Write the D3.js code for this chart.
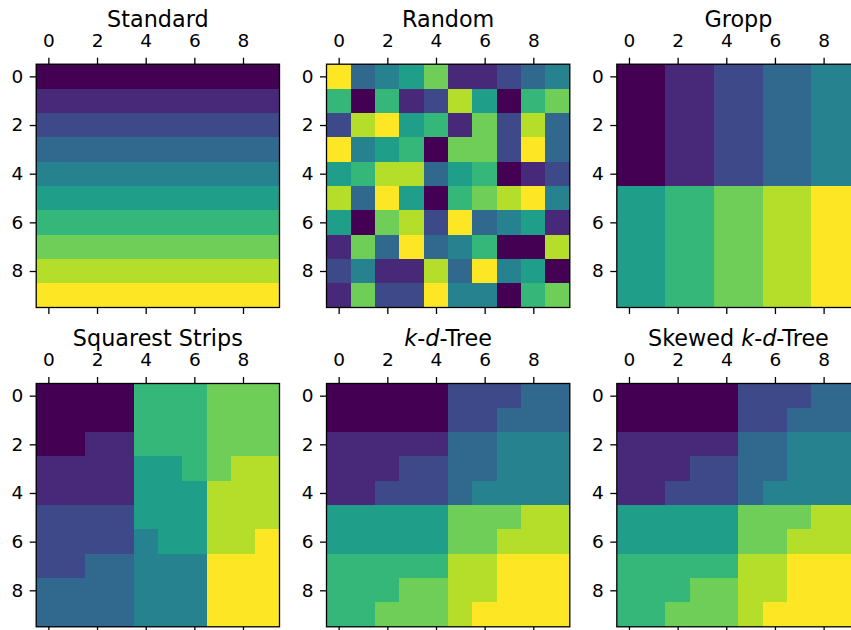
<!DOCTYPE html>
<html>
<head>
<meta charset="utf-8">
<script src="https://cdn.jsdelivr.net/npm/d3@7"></script>
<style>
  body { margin: 0; background: #fff; }
  svg { display: block; }
</style>
</head>
<body>
<script>
// titles of the six partitioning schemes
var titles = ["Standard", "Random", "Gropp", "Squarest Strips", "k-d-Tree", "Skewed k-d-Tree"];
var tickVals = [0, 2, 4, 6, 8];

// processor id for every cell of the 10x10 grid
var standard = [
  [0,0,0,0,0,0,0,0,0,0],
  [1,1,1,1,1,1,1,1,1,1],
  [2,2,2,2,2,2,2,2,2,2],
  [3,3,3,3,3,3,3,3,3,3],
  [4,4,4,4,4,4,4,4,4,4],
  [5,5,5,5,5,5,5,5,5,5],
  [6,6,6,6,6,6,6,6,6,6],
  [7,7,7,7,7,7,7,7,7,7],
  [8,8,8,8,8,8,8,8,8,8],
  [9,9,9,9,9,9,9,9,9,9]
];
var random = [
  [9,3,4,5,7,1,1,2,3,4],
  [6,0,6,1,2,8,5,0,6,7],
  [2,8,9,5,6,1,7,2,8,3],
  [9,4,5,6,0,7,7,2,9,3],
  [5,6,8,8,3,5,6,0,1,2],
  [8,3,9,5,0,6,7,8,9,4],
  [5,0,7,8,2,9,3,4,5,1],
  [1,7,3,9,3,4,6,0,0,8],
  [2,4,1,1,8,3,9,4,5,0],
  [1,7,2,2,9,4,4,0,6,7]
];
var gropp = [
  [0,0,1,1,2,2,3,3,4,4],
  [0,0,1,1,2,2,3,3,4,4],
  [0,0,1,1,2,2,3,3,4,4],
  [0,0,1,1,2,2,3,3,4,4],
  [0,0,1,1,2,2,3,3,4,4],
  [5,5,6,6,7,7,8,8,9,9],
  [5,5,6,6,7,7,8,8,9,9],
  [5,5,6,6,7,7,8,8,9,9],
  [5,5,6,6,7,7,8,8,9,9],
  [5,5,6,6,7,7,8,8,9,9]
];
var squarest = [
  [0,0,0,0,6,6,6,7,7,7],
  [0,0,0,0,6,6,6,7,7,7],
  [0,0,1,1,6,6,6,7,7,7],
  [1,1,1,1,5,5,6,7,8,8],
  [1,1,1,1,5,5,5,8,8,8],
  [2,2,2,2,5,5,5,8,8,8],
  [2,2,2,2,4,5,5,8,8,9],
  [2,2,3,3,4,4,4,9,9,9],
  [3,3,3,3,4,4,4,9,9,9],
  [3,3,3,3,4,4,4,9,9,9]
];
var kdTree = [
  [0,0,0,0,0,2,2,2,3,3],
  [0,0,0,0,0,2,2,3,3,3],
  [1,1,1,1,1,3,3,4,4,4],
  [1,1,1,2,2,3,3,4,4,4],
  [1,1,2,2,2,3,4,4,4,4],
  [5,5,5,5,5,7,7,7,8,8],
  [5,5,5,5,5,7,7,8,8,8],
  [6,6,6,6,6,8,8,9,9,9],
  [6,6,6,7,7,8,8,9,9,9],
  [6,6,7,7,7,8,9,9,9,9]
];
var skewedKdTree = [
  [0,0,0,0,0,2,2,2,3,3],
  [0,0,0,0,0,2,2,3,3,3],
  [1,1,1,1,1,3,3,4,4,4],
  [1,1,1,2,2,3,3,4,4,4],
  [1,1,2,2,2,3,4,4,4,4],
  [5,5,5,5,5,7,7,7,8,8],
  [5,5,5,5,5,7,7,8,8,8],
  [6,6,6,6,6,8,8,9,9,9],
  [6,6,6,7,7,8,8,9,9,9],
  [6,6,7,7,7,8,9,9,9,9]
];
var grids = [standard, random, gropp, squarest, kdTree, skewedKdTree];

var width = 851, height = 630;
var size = 243.3;
var left0 = 36.2, colStep = 290.3;
var top0 = 64.2, rowStep = 319.3;
var tickLen = 6.5;
var font = "DejaVu Sans, sans-serif";

var color = d3.scaleSequential(d3.interpolateViridis).domain([0, 9]);
var sx = d3.scaleLinear().domain([-0.5, 9.5]).range([0, size]);
var sy = d3.scaleLinear().domain([-0.5, 9.5]).range([0, size]);

var svg = d3.select("body").append("svg")
    .attr("width", width)
    .attr("height", height);

function styleAxis(g) {
  g.select(".domain").remove();
  g.selectAll(".tick line").attr("stroke", "#000").attr("stroke-width", 1.3);
  g.selectAll(".tick text")
      .attr("fill", "#000")
      .style("font-family", font)
      .style("font-size", "18.5px");
}

grids.forEach(function(grid, i) {
  var col = i % 3, row = Math.floor(i / 3);
  var g = svg.append("g")
      .attr("transform", "translate(" + (left0 + col * colStep) + "," + (top0 + row * rowStep) + ")");

  var cells = [];
  grid.forEach(function(r, ri) {
    r.forEach(function(v, ci) { cells.push({r: ri, c: ci, v: v}); });
  });

  g.selectAll("rect.cell")
    .data(cells)
    .enter().append("rect")
      .attr("class", "cell")
      .attr("x", function(d) { return sx(d.c - 0.5); })
      .attr("y", function(d) { return sy(d.r - 0.5); })
      .attr("width", function(d) { return sx(d.c + 0.5) - sx(d.c - 0.5); })
      .attr("height", function(d) { return sy(d.r + 0.5) - sy(d.r - 0.5); })
      .attr("fill", function(d) { return color(d.v); })
      .attr("shape-rendering", "crispEdges");

  g.append("g")
      .call(d3.axisTop(sx).tickValues(tickVals).tickSize(tickLen).tickPadding(11).tickSizeOuter(0))
      .call(styleAxis);

  g.append("g")
      .attr("transform", "translate(0," + size + ")")
      .call(d3.axisBottom(sx).tickValues(tickVals).tickFormat("").tickSize(tickLen).tickSizeOuter(0))
      .call(styleAxis);

  g.append("g")
      .call(d3.axisLeft(sy).tickValues(tickVals).tickSize(tickLen).tickPadding(6.5).tickSizeOuter(0))
      .call(styleAxis);

  g.append("rect")
      .attr("width", size)
      .attr("height", size)
      .attr("fill", "none")
      .attr("stroke", "#000")
      .attr("stroke-width", 1.3);

  // title, with k and d in italics
  var t = g.append("text")
      .attr("x", size / 2)
      .attr("y", -37.5)
      .attr("text-anchor", "middle")
      .attr("fill", "#000")
      .style("font-family", font)
      .style("font-size", "22.3px");
  titles[i].split(/(k|d)(?=-)/).forEach(function(part, pi, arr) {
    if (part === "") return;
    var ital = (part === "k" || part === "d") && titles[i].indexOf("k-d") >= 0 && pi % 2 === 1;
    t.append("tspan")
      .style("font-style", ital ? "italic" : "normal")
      .text(part);
  });
});
</script>
</body>
</html>
